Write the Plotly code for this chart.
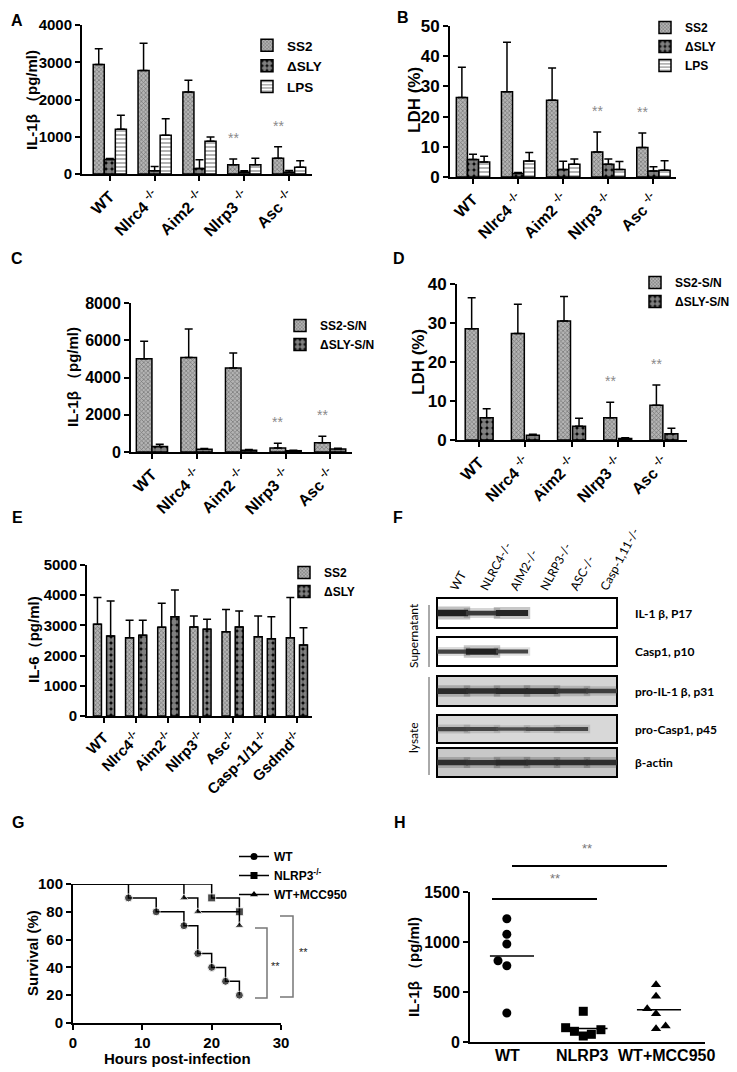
import plotly.graph_objects as go

W, H = 737, 1072
def fx(p): return p / W
def fy(p): return 1 - p / H

SANS = "Liberation Sans, Arial, sans-serif"
BLOT = "Lato, Open Sans, sans-serif"

# ---------------- data ----------------
abcd_groups = ["WT", "Nlrc4", "Aim2", "Nlrp3", "Asc"]

a_ss2 = [2940, 2780, 2200, 250, 420]
a_ss2_sd = [420, 730, 315, 150, 310]
a_dsly = [390, 90, 150, 50, 50]
a_dsly_sd = [25, 110, 230, 35, 45]
a_lps = [1200, 1040, 880, 250, 180]
a_lps_sd = [380, 440, 110, 175, 175]

b_ss2 = [26.3, 28.2, 25.4, 8.3, 9.8]
b_ss2_sd = [10.0, 16.4, 10.7, 6.6, 4.8]
b_dsly = [5.8, 1.2, 2.5, 4.2, 2.0]
b_dsly_sd = [1.7, 0.3, 2.7, 1.8, 1.4]
b_lps = [5.0, 5.3, 4.2, 2.5, 2.2]
b_lps_sd = [1.9, 2.8, 1.8, 2.6, 3.2]

c_ss2 = [5000, 5080, 4510, 210, 490]
c_ss2_sd = [950, 1520, 810, 260, 350]
c_dsly = [290, 150, 100, 70, 160]
c_dsly_sd = [130, 40, 30, 20, 40]

d_ss2 = [28.5, 27.3, 30.5, 5.7, 8.9]
d_ss2_sd = [8.0, 7.5, 6.3, 4.0, 5.2]
d_dsly = [5.7, 1.2, 3.5, 0.4, 1.6]
d_dsly_sd = [2.3, 0.3, 2.1, 0.15, 1.4]

e_groups = ["WT", "Nlrc4", "Aim2", "Nlrp3", "Asc", "Casp-1/11", "Gsdmd"]
e_ss2 = [3035, 2595, 2935, 2945, 2790, 2625, 2595]
e_ss2_sd = [885, 575, 795, 365, 740, 685, 1325]
e_dsly = [2650, 2670, 3290, 2870, 2945, 2560, 2350]
e_dsly_sd = [1160, 500, 885, 330, 530, 730, 575]

f_lanes = ["WT", "NLRC4-/-", "AIM2-/-", "NLRP3-/-", "ASC-/-", "Casp-1,11-/-"]
f_rows = ["IL-1 β, P17", "Casp1, p10", "pro-IL-1 β, p31", "pro-Casp1, p45", "β-actin"]
f_il1b_p17 = [1.0, 0.65, 0.9, 0, 0, 0]
f_casp1_p10 = [0.55, 0.95, 0.5, 0, 0, 0]
f_pro_il1b = [0.85, 0.8, 0.85, 0.85, 0.7, 0.6]
f_pro_casp1 = [0.55, 0.5, 0.4, 0.45, 0.5, 0]
f_actin = [0.8, 0.75, 0.85, 0.8, 0.8, 0.8]

g_wt_t = [0, 8, 12, 16, 18, 20, 22, 24]
g_wt_s = [100, 90, 80, 70, 50, 40, 30, 20]
g_nlrp3_t = [0, 20, 24]
g_nlrp3_s = [100, 90, 80]
g_mcc_t = [0, 16, 18, 24]
g_mcc_s = [100, 90, 80, 70]

h_groups = ["WT", "NLRP3", "WT+MCC950"]
h_wt = [1233, 1077, 980, 813, 763, 290]
h_nlrp3 = [307, 143, 107, 60, 77, 123]
h_mcc = [573, 457, 333, 283, 133, 160]
h_wt_jit = [-0.07, -0.07, -0.07, -0.19, -0.07, -0.07]
h_nlrp3_jit = [-0.03, -0.27, -0.15, -0.03, 0.08, 0.21]
h_mcc_jit = [-0.04, -0.04, -0.16, -0.04, -0.04, 0.09]

# ---------------- helpers ----------------
layout = dict(width=W, height=H, margin=dict(l=0, r=0, t=0, b=0, autoexpand=False),
              paper_bgcolor="white", plot_bgcolor="white", barmode="overlay",
              font=dict(family=SANS, color="black"), showlegend=True)
traces, annotations, shapes = [], [], []

def names(n):
    s = "" if n == 1 else str(n)
    return "x" + s, "y" + s, "xaxis" + s, "yaxis" + s

def add_axes(n, xpx, ypx, xr, yr, dtick=None, tickvals=None, ticktext=None,
             ysize=14, xsize=15, xangle=-45, xticks="outside", show=True, xlabels=True):
    xn, yn, xk, yk = names(n)
    layout[xk] = dict(domain=[fx(xpx[0]), fx(xpx[1])], range=xr, anchor=yn,
                      showline=show, linecolor="black", linewidth=2,
                      ticks=xticks if show else "", ticklen=5, tickwidth=2, tickcolor="black",
                      tickmode="array", tickvals=tickvals or [], ticktext=ticktext or [],
                      showticklabels=xlabels and bool(ticktext),
                      tickangle=xangle,
                      tickfont=dict(family=SANS, size=xsize, color="black", weight="bold"),
                      showgrid=False, zeroline=False, fixedrange=True)
    layout[yk] = dict(domain=[fy(ypx[1]), fy(ypx[0])], range=yr, anchor=xn,
                      showline=show, linecolor="black", linewidth=2,
                      ticks="outside" if show else "", ticklen=5, tickwidth=2, tickcolor="black",
                      showticklabels=show, dtick=dtick, tick0=0,
                      tickfont=dict(family=SANS, size=ysize, color="black", weight="bold"),
                      showgrid=False, zeroline=False, fixedrange=True)

PAT = {
    "SS2": dict(color="#8c8c8c", pattern=dict(shape="x", fgcolor="#333333", bgcolor="#b4b4b4",
                                              size=3, solidity=0.4)),
    "DSLY": dict(color="black", pattern=dict(shape=".", fgcolor="white", bgcolor="black",
                                             size=6, solidity=0.75)),
    "LPS": dict(color="white", pattern=dict(shape="-", fgcolor="black", bgcolor="white",
                                            size=4, solidity=0.3)),
}

def add_bars(n, vals, sds, name, style, off, wid, legend):
    xn, yn, _, _ = names(n)
    st = PAT[style]
    traces.append(go.Bar(
        x=list(range(len(vals))), y=vals, name=name, xaxis=xn, yaxis=yn,
        offset=off, width=wid, legend=legend,
        marker=dict(color=st["color"], pattern=st["pattern"],
                    line=dict(color="black", width=1.5)),
        error_y=dict(type="data", array=sds, arrayminus=[0] * len(sds), symmetric=False,
                     color="black", thickness=1.5, width=4)))

def stars(n, idxs, vals, sds, off, wid, size=14):
    xn, yn, _, _ = names(n)
    for i in idxs:
        annotations.append(dict(x=i + off + wid / 2, y=vals[i] + sds[i], xref=xn, yref=yn,
                                text="**", showarrow=False, yanchor="bottom", yshift=11,
                                font=dict(family=SANS, size=size, color="#8a8a8a")))

def leg(xpx, ytop, size=12):
    return dict(x=fx(xpx), y=fy(ytop), xanchor="left", yanchor="top",
                bgcolor="rgba(0,0,0,0)", tracegroupgap=0,
                font=dict(family=SANS, size=size, color="black", weight="bold"))

def text(xpx, ypx, t, size=15, angle=0, bold=True, family=SANS, xanchor="center", color="black"):
    annotations.append(dict(x=fx(xpx), y=fy(ypx), xref="paper", yref="paper", text=t,
                            showarrow=False, textangle=angle, xanchor=xanchor, yanchor="middle",
                            font=dict(family=family, size=size, color=color,
                                      weight="bold" if bold else "normal")))

abcd_labels = [g if g == "WT" else g + " <sup>-/-</sup>" for g in abcd_groups]
e_labels = [g if g == "WT" else g + "<sup>-/-</sup>" for g in e_groups]

# ---------------- Panel A ----------------
add_axes(1, (82, 312), (25, 174), [-0.62, 4.51], [0, 4000], dtick=1000,
         tickvals=list(range(5)), ticktext=abcd_labels, ysize=15, xsize=16)
wA, oA = 0.2467, [-0.37, -0.1233, 0.1233]
add_bars(1, a_ss2, a_ss2_sd, "SS2", "SS2", oA[0], wA, "legend")
add_bars(1, a_dsly, a_dsly_sd, "ΔSLY", "DSLY", oA[1], wA, "legend")
add_bars(1, a_lps, a_lps_sd, "LPS", "LPS", oA[2], wA, "legend")
stars(1, [3, 4], a_ss2, a_ss2_sd, oA[0], wA)
layout["legend"] = leg(247, 30, size=13.5)
text(32, 100, "IL-1β （pg/ml)", size=15, angle=-90)
text(17, 20, "A", size=16)

# ---------------- Panel B ----------------
add_axes(2, (450, 676), (26, 177), [-0.51, 4.5], [0, 50], dtick=10,
         tickvals=list(range(5)), ticktext=abcd_labels, ysize=17, xsize=16)
add_bars(2, b_ss2, b_ss2_sd, "SS2", "SS2", oA[0], wA, "legend2")
add_bars(2, b_dsly, b_dsly_sd, "ΔSLY", "DSLY", oA[1], wA, "legend2")
add_bars(2, b_lps, b_lps_sd, "LPS", "LPS", oA[2], wA, "legend2")
stars(2, [3, 4], b_ss2, b_ss2_sd, oA[0], wA)
layout["legend2"] = leg(645, 13)
text(415, 100, "LDH (%)", size=17, angle=-90)
text(403, 18, "B", size=16)

# ---------------- Panel C ----------------
add_axes(3, (131, 352), (303, 452), [-0.47, 4.49], [0, 8000], dtick=2000,
         tickvals=list(range(5)), ticktext=abcd_labels, ysize=16, xsize=16)
wC, oC = 0.35, [-0.35, 0.0]
add_bars(3, c_ss2, c_ss2_sd, "SS2-S/N", "SS2", oC[0], wC, "legend3")
add_bars(3, c_dsly, c_dsly_sd, "ΔSLY-S/N", "DSLY", oC[1], wC, "legend3")
stars(3, [3, 4], c_ss2, c_ss2_sd, oC[0], wC)
layout["legend3"] = leg(280, 311)
text(72, 377, "IL-1β （pg/ml)", size=15, angle=-90)
text(17, 258, "C", size=16)

# ---------------- Panel D ----------------
add_axes(4, (457, 687), (284, 440), [-0.48, 4.5], [0, 40], dtick=10,
         tickvals=list(range(5)), ticktext=abcd_labels, ysize=17, xsize=16)
wD, oD = 0.28, [-0.3025, 0.0225]
add_bars(4, d_ss2, d_ss2_sd, "SS2-S/N", "SS2", oD[0], wD, "legend4")
add_bars(4, d_dsly, d_dsly_sd, "ΔSLY-S/N", "DSLY", oD[1], wD, "legend4")
stars(4, [3, 4], d_ss2, d_ss2_sd, oD[0], wD)
layout["legend4"] = leg(635, 268)
text(418, 362, "LDH (%)", size=17, angle=-90)
text(399, 258, "D", size=16)

# ---------------- Panel E ----------------
add_axes(5, (87, 312), (565, 716), [-0.53, 6.47], [0, 5000], dtick=1000,
         tickvals=list(range(7)), ticktext=e_labels, ysize=15, xsize=15)
wE, oE = 0.25, [-0.33, 0.08]
add_bars(5, e_ss2, e_ss2_sd, "SS2", "SS2", oE[0], wE, "legend5")
add_bars(5, e_dsly, e_dsly_sd, "ΔSLY", "DSLY", oE[1], wE, "legend5")
layout["legend5"] = leg(284, 558)
text(33, 640, "IL-6（pg/ml)", size=15, angle=-90)
text(17, 518, "E", size=16)

# ---------------- Panel F (western blot) ----------------
row_px = [(598, 628), (637, 666), (676, 706), (715, 743), (748, 777)]
row_bg = ["white", "white", "#d4d4d4", "#d8d8d8", "#c8c8c8"]
row_vals = [f_il1b_p17, f_casp1_p10, f_pro_il1b, f_pro_casp1, f_actin]
for k, (ypx, bg, vals, lab) in enumerate(zip(row_px, row_bg, row_vals, f_rows)):
    n = 6 + k
    xn, yn, xk, yk = names(n)
    add_axes(n, (437, 617), ypx, [-0.5, 5.5], [0, 1], show=False)
    if k == 0:
        layout[xk].update(side="top", tickvals=list(range(6)), ticktext=f_lanes,
                          showticklabels=True, tickangle=-62, ticks="",
                          tickfont=dict(family=BLOT, size=12, color="black", weight="normal"))
    shapes.append(dict(type="rect", xref=xn + " domain", yref=yn + " domain",
                       x0=0, x1=1, y0=0, y1=1, fillcolor=bg,
                       line=dict(color="black", width=2), layer="below"))
    lx = [i for i, v in enumerate(vals) if v > 0]
    lv = [v for v in vals if v > 0]
    traces.append(go.Scatter(
        x=lx, y=[0.5] * len(lx), xaxis=xn, yaxis=yn, mode="markers", showlegend=False,
        hoverinfo="skip",
        marker=dict(symbol="line-ew", size=26,
                    line=dict(width=[4 + 9 * v for v in lv],
                              color=["rgba(50,50,50,%.2f)" % (0.3 * v) for v in lv]))))
    traces.append(go.Scatter(
        x=lx, y=[0.5] * len(lx), xaxis=xn, yaxis=yn, mode="markers", showlegend=False,
        hoverinfo="skip",
        marker=dict(symbol="line-ew", size=23,
                    line=dict(width=[1.5 + 5 * v for v in lv],
                              color=["rgb(%d,%d,%d)" % ((int(110 - 80 * v),) * 3) for v in lv]))))
    text(633, (ypx[0] + ypx[1]) / 2, lab, size=12, family=BLOT, xanchor="left")

shapes.append(dict(type="line", xref="paper", yref="paper", x0=fx(429), x1=fx(429),
                   y0=fy(605), y1=fy(667), line=dict(color="#555", width=1)))
shapes.append(dict(type="line", xref="paper", yref="paper", x0=fx(429), x1=fx(429),
                   y0=fy(677), y1=fy(775), line=dict(color="#555", width=1)))
text(413, 636, "Supernatant", size=12, angle=-90, bold=False, family=BLOT)
text(413, 738, "lysate", size=12, angle=-90, bold=False, family=BLOT)
text(398, 518, "F", size=16)

# ---------------- Panel G (survival) ----------------
add_axes(11, (73, 281), (884, 1023), [0, 30], [0, 100], dtick=20,
         tickvals=[0, 10, 20, 30], ticktext=["0", "10", "20", "30"],
         ysize=15, xsize=15, xangle=0)
xg, yg, _, _ = names(11)
g_series = [("WT", g_wt_t, g_wt_s, "circle"),
            ("NLRP3<sup>-/-</sup>", g_nlrp3_t, g_nlrp3_s, "square"),
            ("WT+MCC950", g_mcc_t, g_mcc_s, "triangle-up")]
for nm, t, s, sym in g_series:
    traces.append(go.Scatter(
        x=t, y=s, xaxis=xg, yaxis=yg, mode="lines+markers", showlegend=False,
        cliponaxis=False, line=dict(shape="hv", color="black", width=1.5),
        marker=dict(symbol=sym, color="black", size=[0 if ti == 0 else 8 for ti in t])))
    traces.append(go.Scatter(
        x=[None], y=[None], xaxis=xg, yaxis=yg, mode="lines+markers", name=nm,
        legend="legend6", line=dict(color="black", width=1.5),
        marker=dict(symbol=sym, color="black", size=7)))
layout["legend6"] = leg(234, 842)
for xa, xb, ya, yb in [(255, 267, 928, 998), (280, 293, 916, 997)]:
    shapes.append(dict(type="path", xref="paper", yref="paper",
                       path="M %f,%f L %f,%f L %f,%f L %f,%f" % (fx(xa), fy(ya), fx(xb), fy(ya),
                                                                 fx(xb), fy(yb), fx(xa), fy(yb)),
                       line=dict(color="#777", width=1.5)))
text(275, 966, "**", size=11, bold=False, color="#222")
text(303, 952, "**", size=11, bold=False, color="#222")
text(32, 953, "Survival (%)", size=15, angle=-90)
text(177, 1058, "Hours post-infection", size=15)
text(18, 822, "G", size=16)

# ---------------- Panel H ----------------
add_axes(12, (470, 705), (892, 1042), [-0.571, 2.626], [0, 1500], dtick=500,
         tickvals=[0, 1, 2], ticktext=None, ysize=16, xsize=16, xangle=0, xticks="")
xh, yh, _, _ = names(12)
for i, (lab, sh) in enumerate(zip(h_groups, [-4, -3, 8])):
    annotations.append(dict(x=i, y=fy(1055), xref=xh, yref="paper", text=lab, xshift=sh,
                            showarrow=False, xanchor="center", yanchor="middle",
                            font=dict(family=SANS, size=16, color="black", weight="bold")))
for i, (vals, jit, sym) in enumerate([(h_wt, h_wt_jit, "circle"),
                                      (h_nlrp3, h_nlrp3_jit, "square"),
                                      (h_mcc, h_mcc_jit, "triangle-up")]):
    traces.append(go.Scatter(
        x=[i + j for j in jit], y=vals, xaxis=xh, yaxis=yh, mode="markers",
        showlegend=False, cliponaxis=False,
        marker=dict(symbol=sym, color="black", size=9)))
    m = sum(vals) / len(vals)
    traces.append(go.Scatter(
        x=[i - 0.3, i + 0.3], y=[m, m], xaxis=xh, yaxis=yh, mode="lines",
        showlegend=False, line=dict(color="black", width=1.5)))
for xa, xb, ypx in [(492, 597, 899), (512, 667, 866)]:
    shapes.append(dict(type="line", xref="paper", yref="paper", x0=fx(xa), x1=fx(xb),
                       y0=fy(ypx), y1=fy(ypx), line=dict(color="black", width=2)))
text(555, 878, "**", size=13, bold=False, color="#777")
text(587, 848, "**", size=13, bold=False, color="#777")
text(413, 967, "IL-1β （pg/ml)", size=15, angle=-90)
text(400, 822, "H", size=16)

layout["annotations"] = annotations
layout["shapes"] = shapes
fig = go.Figure(data=traces, layout=layout)
fig.write_html("out.html", config={"displayModeBar": False},
               post_script="document.body.style.margin='0';document.body.style.padding='0';")
